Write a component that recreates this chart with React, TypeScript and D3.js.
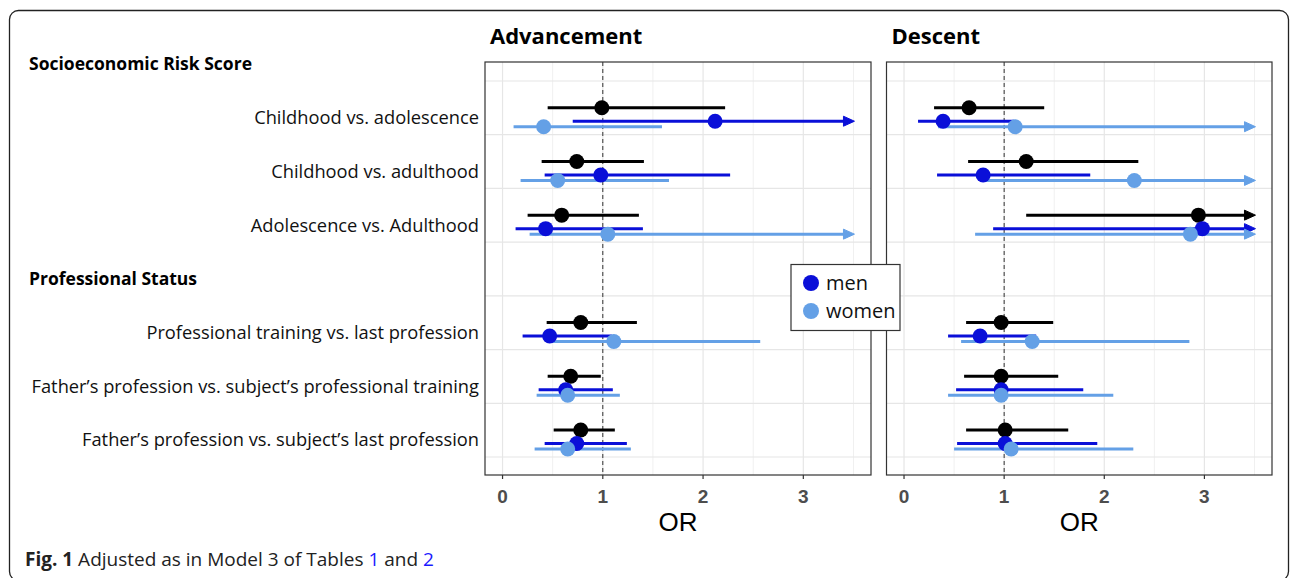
import React from "react";
import * as d3 from "d3";

// ---------- data ----------
const rowLabels = [
  "Socioeconomic Risk Score",
  "Childhood vs. adolescence",
  "Childhood vs. adulthood",
  "Adolescence vs. Adulthood",
  "Professional Status",
  "Professional training vs. last profession",
  "Father’s profession vs. subject’s professional training",
  "Father’s profession vs. subject’s last profession",
];
const headerRows = [0, 4];
const itemRows = [1, 2, 3, 5, 6, 7];
const panelTitles = ["Advancement", "Descent"];
const xTicks = [0, 1, 2, 3];
const xMinor = [0.5, 1.5, 2.5, 3.5];
const xCap = 3.5;
const legendLabels = ["men", "women"];

// Advancement
const advAllOR = [0.99, 0.74, 0.59, 0.78, 0.68, 0.78];
const advAllLo = [0.45, 0.39, 0.25, 0.44, 0.45, 0.51];
const advAllHi = [2.22, 1.41, 1.36, 1.34, 0.98, 1.12];
const advMenOR = [2.12, 0.98, 0.43, 0.47, 0.63, 0.74];
const advMenLo = [0.7, 0.42, 0.13, 0.2, 0.36, 0.42];
const advMenHi = [4.2, 2.27, 1.4, 1.09, 1.1, 1.24];
const advWomenOR = [0.41, 0.55, 1.05, 1.11, 0.65, 0.65];
const advWomenLo = [0.11, 0.18, 0.27, 0.49, 0.34, 0.32];
const advWomenHi = [1.59, 1.66, 4.5, 2.57, 1.17, 1.28];

// Descent
const desAllOR = [0.65, 1.22, 2.94, 0.97, 0.97, 1.01];
const desAllLo = [0.3, 0.64, 1.22, 0.62, 0.6, 0.62];
const desAllHi = [1.4, 2.34, 5.0, 1.49, 1.54, 1.64];
const desMenOR = [0.39, 0.79, 2.98, 0.76, 0.97, 1.01];
const desMenLo = [0.14, 0.33, 0.89, 0.44, 0.52, 0.53];
const desMenHi = [1.1, 1.86, 6.0, 1.32, 1.79, 1.93];
const desWomenOR = [1.11, 2.3, 2.86, 1.28, 0.97, 1.07];
const desWomenLo = [0.34, 0.8, 0.71, 0.57, 0.44, 0.5];
const desWomenHi = [4.0, 4.5, 6.5, 2.85, 2.09, 2.29];

// ---------- styles ----------
const colors = { all: "#000000", men: "#0a0fd8", women: "#64a0e6" };
const offsets = { all: -27, men: -13.5, women: -8 };
const labelFont = "'Open Sans', 'Noto Sans', sans-serif";
const axisFont = "'Liberation Sans', Arial, sans-serif";

type Series = { key: "all" | "men" | "women"; or: number[]; lo: number[]; hi: number[] };
const panelData: Series[][] = [
  [
    { key: "all", or: advAllOR, lo: advAllLo, hi: advAllHi },
    { key: "men", or: advMenOR, lo: advMenLo, hi: advMenHi },
    { key: "women", or: advWomenOR, lo: advWomenLo, hi: advWomenHi },
  ],
  [
    { key: "all", or: desAllOR, lo: desAllLo, hi: desAllHi },
    { key: "men", or: desMenOR, lo: desMenLo, hi: desMenHi },
    { key: "women", or: desWomenOR, lo: desWomenLo, hi: desWomenHi },
  ],
];

const panelX: [number, number][] = [
  [485, 871],
  [886.5, 1272],
];
const panelTop = 62;
const panelBottom = 475;

export default function App() {
  const y = d3.scaleLinear().domain([0, 7]).range([81, 457]);

  return (
    <svg
      width={1290}
      height={578}
      style={{ position: "absolute", left: 0, top: 0, background: "#fff" }}
    >
      <rect x={0} y={0} width={1290} height={578} fill="#fff" />
      {/* outer frame */}
      <rect x={9.5} y={10.5} width={1279} height={570} rx={9} fill="none" stroke="#222" strokeWidth={1.3} />

      {/* row labels */}
      {rowLabels.map((lab, i) =>
        headerRows.includes(i) ? (
          <text key={i} x={29} y={y(i) - 17} dy="0.35em" fontFamily={labelFont} fontWeight={700} fontSize={17.5} fill="#000">
            {lab}
          </text>
        ) : (
          <text key={i} x={479} y={y(i) - 17} dy="0.35em" textAnchor="end" fontFamily={labelFont} fontSize={18.3} fill="#111">
            {lab}
          </text>
        )
      )}

      {panelData.map((series, p) => {
        const x = d3.scaleLinear().domain([-0.175, 3.675]).range(panelX[p]);
        const [x0, x1] = panelX[p];
        return (
          <g key={p}>
            <text x={x0 + 5} y={44} fontFamily={labelFont} fontWeight={700} fontSize={22} fill="#000">
              {panelTitles[p]}
            </text>
            <rect x={x0} y={panelTop} width={x1 - x0} height={panelBottom - panelTop} fill="#fff" />
            {/* grid */}
            {xMinor.map((t) => (
              <line key={"m" + t} x1={x(t)} x2={x(t)} y1={panelTop} y2={panelBottom} stroke="#f0f0f0" strokeWidth={1} />
            ))}
            {xTicks.map((t) => (
              <line key={"g" + t} x1={x(t)} x2={x(t)} y1={panelTop} y2={panelBottom} stroke="#e6e6e6" strokeWidth={1.2} />
            ))}
            {rowLabels.map((_, i) => (
              <line key={"h" + i} x1={x0} x2={x1} y1={y(i)} y2={y(i)} stroke="#e6e6e6" strokeWidth={1.2} />
            ))}
            {/* reference line */}
            <line x1={x(1)} x2={x(1)} y1={panelTop} y2={panelBottom} stroke="#333" strokeWidth={1} strokeDasharray="4,3" />
            {/* CI lines */}
            {series.map((s) =>
              itemRows.map((r, j) => {
                const yy = y(r) + offsets[s.key];
                const capped = s.hi[j] > xCap;
                const xe = x(Math.min(s.hi[j], xCap));
                return (
                  <g key={s.key + r}>
                    <line
                      x1={x(s.lo[j])}
                      x2={capped ? xe - 6 : xe}
                      y1={yy}
                      y2={yy}
                      stroke={colors[s.key]}
                      strokeWidth={3}
                    />
                    {capped && (
                      <polygon
                        points={`${xe - 10},${yy - 5} ${xe + 1},${yy} ${xe - 10},${yy + 5}`}
                        fill={colors[s.key]}
                        stroke={colors[s.key]}
                        strokeWidth={1}
                        strokeLinejoin="round"
                      />
                    )}
                  </g>
                );
              })
            )}
            {/* points */}
            {series.map((s) =>
              itemRows.map((r, j) => (
                <circle key={"p" + s.key + r} cx={x(s.or[j])} cy={y(r) + offsets[s.key]} r={7.5} fill={colors[s.key]} />
              ))
            )}
            {/* panel border */}
            <rect x={x0} y={panelTop} width={x1 - x0} height={panelBottom - panelTop} fill="none" stroke="#333" strokeWidth={1.2} />
            {/* x axis */}
            {xTicks.map((t) => (
              <g key={"t" + t}>
                <line x1={x(t)} x2={x(t)} y1={panelBottom} y2={panelBottom + 4} stroke="#333" strokeWidth={1.2} />
                <text x={x(t)} y={503} textAnchor="middle" fontFamily={axisFont} fontWeight={700} fontSize={19} fill="#4d4d4d">
                  {t}
                </text>
              </g>
            ))}
            <text x={(x0 + x1) / 2} y={531} textAnchor="middle" fontFamily={axisFont} fontSize={26} fill="#000">
              OR
            </text>
          </g>
        );
      })}

      {/* legend */}
      <g>
        <rect x={791} y={264.5} width={109} height={66} fill="#fff" stroke="#333" strokeWidth={1.2} />
        {legendLabels.map((l, i) => (
          <g key={l}>
            <circle cx={811} cy={283 + i * 28} r={8} fill={i === 0 ? colors.men : colors.women} />
            <text x={826} y={283 + i * 28} dy="0.35em" fontFamily={labelFont} fontSize={20} fill="#111">
              {l}
            </text>
          </g>
        ))}
      </g>

      {/* caption */}
      <text x={25} y={566} fontFamily={labelFont} fontSize={19} fill="#222">
        <tspan fontWeight={700}>Fig. 1</tspan>
        <tspan> Adjusted as in Model 3 of Tables </tspan>
        <tspan fill="#1a1aff">1</tspan>
        <tspan> and </tspan>
        <tspan fill="#1a1aff">2</tspan>
      </text>
    </svg>
  );
}
